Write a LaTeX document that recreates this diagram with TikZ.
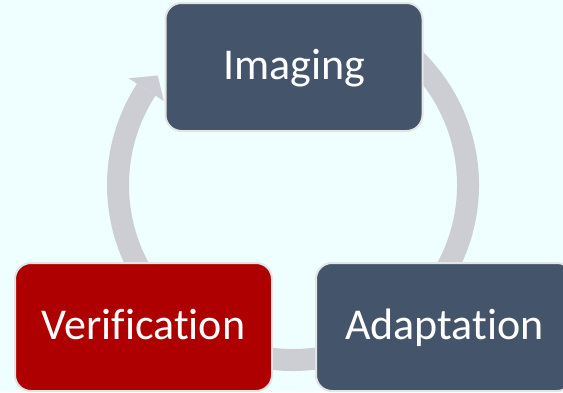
\documentclass[tikz,border=0pt]{standalone}
\usepackage{fontspec}
\setmainfont{Carlito}[Ligatures=NoCommon]
\usetikzlibrary{calc}
\definecolor{bgcyan}{HTML}{EFFFFF}
\definecolor{slate}{HTML}{44546A}
\definecolor{darkred}{HTML}{AE0000}
\definecolor{ringgray}{HTML}{CDCED3}
\definecolor{edgegray}{HTML}{E4E4E4}

\begin{document}
\begin{tikzpicture}[x=1pt, y=-1pt,
  stage/.style={draw=edgegray, line width=2pt, rounded corners=16pt,
    minimum width=257pt, minimum height=128pt, text=white,
    text height=32pt, text depth=8pt, font=\fontsize{44}{50}\selectfont}]
\useasboundingbox (0,0) rectangle (563,392);
\fill [bgcyan] (0,0) rectangle (563,392);

\coordinate (hub) at (293,185);
\draw [ringgray, line width=22pt] ($(hub)+(60:175pt)$) arc [start angle=60, end angle=-213, radius=175pt];
\fill [ringgray] ($(hub)+(147:196pt)$) -- ($(hub)+(141:174pt)$) -- ($(hub)+(147:154pt)$) -- cycle;

\node [stage, fill=slate] (imaging) at (294,67) {Imaging};
\node [stage, fill=slate] (adaptation) at (444.5,327) {Adaptation};
\node [stage, fill=darkred] (verification) at (143.5,327) {Verification};
\end{tikzpicture}
\end{document}
